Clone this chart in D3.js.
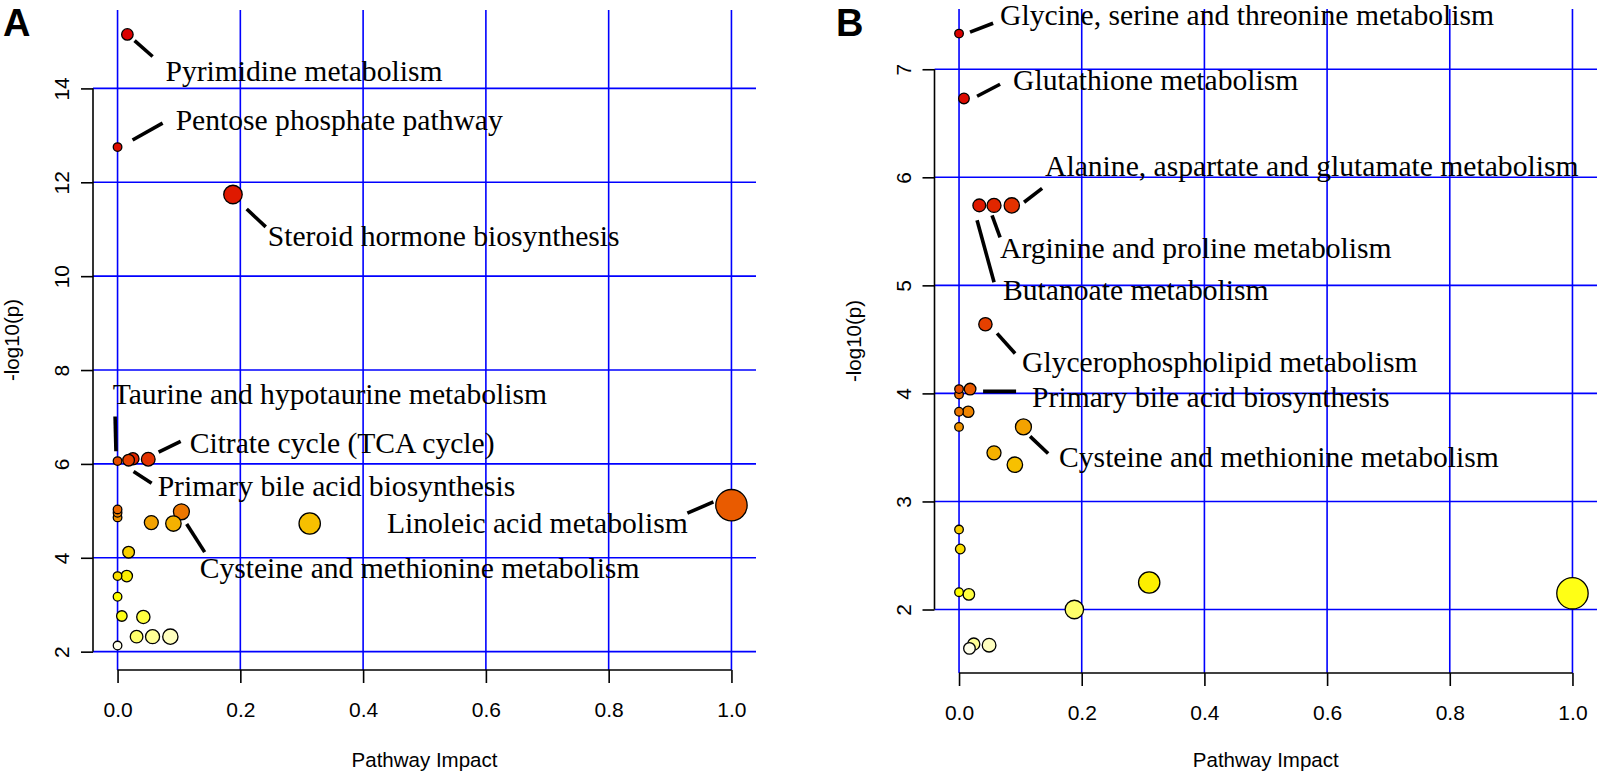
<!DOCTYPE html>
<html>
<head>
<meta charset="utf-8">
<script src="https://d3js.org/d3.v7.min.js"></script>
<style>
  body { margin: 0; background: #fff; }
  .tick text { font-family: "Liberation Sans", Arial, sans-serif; font-size: 21px; fill: #000; }
  .lab { font-family: "Liberation Serif", "Times New Roman", serif; font-size: 29.6px; fill: #000; }
  .ttl { font-family: "Liberation Sans", Arial, sans-serif; font-size: 20.5px; fill: #000; }
  .letter { font-family: "Liberation Sans", Arial, sans-serif; font-size: 38px; font-weight: bold; }
</style>
</head>
<body>
<div id="chart"></div>
<script>
// pathway impact and -log10(p), panel A
const impactA = [0.016, 0, 0.188, 0, 0.018, 0.025, 0.05, 0, 0, 0, 0.055, 0.091, 0.104, 0.313, 1.0,
                 0.018, 0, 0.015, 0, 0.007, 0.042, 0.031, 0.057, 0.086, 0];
const logpA   = [15.15, 12.75, 11.74, 6.06, 6.08, 6.11, 6.10, 5.03, 4.96, 4.86, 4.75, 4.73, 4.98, 4.73, 5.12,
                 4.12, 3.61, 3.61, 3.17, 2.76, 2.74, 2.32, 2.32, 2.32, 2.13];
// panel B
const impactB = [0, 0.008, 0.033, 0.057, 0.086, 0.043, 0, 0, 0.018, 0, 0.015, 0, 0.105, 0.057, 0.091,
                 0, 0.002, 0, 0.016, 0.188, 0.31, 1.0, 0.017, 0.024, 0.049];
const logpB   = [7.33, 6.73, 5.74, 5.74, 5.74, 4.64, 4.04, 3.99, 4.04, 3.83, 3.83, 3.69, 3.69, 3.45, 3.34,
                 2.74, 2.56, 2.16, 2.14, 2.0, 2.25, 2.15, 1.64, 1.68, 1.67];

const xTicks = [0, 0.2, 0.4, 0.6, 0.8, 1.0];
const yTicksA = [2, 4, 6, 8, 10, 12, 14];
const yTicksB = [2, 3, 4, 5, 6, 7];

// labelled pathways and the point each one belongs to
const namesA = ["Pyrimidine metabolism", "Pentose phosphate pathway", "Steroid hormone biosynthesis",
  "Taurine and hypotaurine metabolism", "Citrate cycle (TCA cycle)", "Primary bile acid biosynthesis",
  "Cysteine and methionine metabolism", "Linoleic acid metabolism"];
const pointA = [0, 1, 2, 3, 6, 4, 12, 14];
const namesB = ["Glycine, serine and threonine metabolism", "Glutathione metabolism",
  "Alanine, aspartate and glutamate metabolism", "Arginine and proline metabolism", "Butanoate metabolism",
  "Glycerophospholipid metabolism", "Primary bile acid biosynthesis", "Cysteine and methionine metabolism"];
const pointB = [0, 1, 4, 3, 2, 5, 8, 12];

// label placement in data units: text x, text y, leader x1,y1,x2,y2
const placeA = [
  [0.078, 14.38, 0.0277, 15.02, 0.0571, 14.68],
  [0.0946, 13.32, 0.0245, 12.90, 0.0734, 13.26],
  [0.2447, 10.86, 0.2104, 11.43, 0.2414, 11.05],
  [-0.008, 7.48, -0.004, 7.01, -0.0026, 6.27],
  [0.1175, 6.44, 0.0669, 6.25, 0.1028, 6.48],
  [0.0653, 5.53, 0.0261, 5.84, 0.0555, 5.59],
  [0.1338, 3.78, 0.1126, 4.72, 0.1419, 4.12],
  [0.4388, 4.74, 0.9282, 4.95, 0.9706, 5.19]
];
const placeB = [
  [0.0669, 7.50, 0.0179, 7.343, 0.0555, 7.426],
  [0.0881, 6.898, 0.0294, 6.75, 0.0669, 6.861],
  [0.1403, 6.10, 0.106, 5.769, 0.1354, 5.898],
  [0.0669, 5.343, 0.0538, 5.648, 0.0669, 5.444],
  [0.0718, 4.954, 0.0294, 5.602, 0.0571, 5.028],
  [0.1028, 4.287, 0.062, 4.556, 0.0914, 4.370],
  [0.1191, 3.963, 0.0392, 4.019, 0.093, 4.019],
  [0.1631, 3.407, 0.1158, 3.602, 0.1452, 3.444]
];

const svg = d3.select("#chart").append("svg")
  .attr("width", 1600).attr("height", 775)
  .style("background", "#fff");

// R-like heat.colors, slightly toned down for the red end
function heatColors(n) {
  const j = Math.floor(n / 4), i = n - j, out = [];
  for (let k = 0; k < i; k++) {
    const h = i > 1 ? k / (i - 1) : 0;
    const v = 0.86 + 0.14 * h;
    out.push(d3.rgb(255 * v, 255 * v * h, 0).formatHex());
  }
  for (let k = 0; k < j; k++) {
    const s = j > 1 ? (1 - 1 / (2 * j)) - k * ((1 - 1 / j) / (j - 1)) : 0.5;
    out.push(d3.rgb(255, 255, 255 * (1 - s)).formatHex());
  }
  return out;
}

function panel(impact, logp, yTicks, names, pts, place, left, right, top, bottom, letter, letterX) {
  const g = svg.append("g");
  const ymin = d3.min(logp), ymax = d3.max(logp), yr = ymax - ymin;
  const x = d3.scaleLinear().domain([-0.04, 1.04]).range([left, right]);
  const y = d3.scaleLinear().domain([ymin - 0.04 * yr, ymax + 0.04 * yr]).range([bottom, top]);
  const r = d3.scaleSqrt().domain([0, 1]).range([4.3, 15.7]);

  // grid
  g.selectAll(".hg").data(yTicks).join("line")
    .attr("x1", left).attr("x2", right)
    .attr("y1", d => y(d)).attr("y2", d => y(d))
    .attr("stroke", "#0000ff").attr("stroke-width", 1.6);
  g.selectAll(".vg").data(xTicks).join("line")
    .attr("x1", d => x(d)).attr("x2", d => x(d))
    .attr("y1", top).attr("y2", bottom)
    .attr("stroke", "#0000ff").attr("stroke-width", 1.6);

  // axes
  const ax = g.append("g").attr("transform", `translate(0,${bottom})`)
    .call(d3.axisBottom(x).tickValues(xTicks).tickFormat(d3.format(".1f")).tickSize(13).tickPadding(19).tickSizeOuter(0));
  ax.select(".domain").remove();
  ax.selectAll(".tick line").attr("stroke", "#000").attr("stroke-width", 1.6);
  ax.append("line").attr("x1", x(0)).attr("x2", x(1)).attr("stroke", "#000").attr("stroke-width", 1.6);

  const ay = g.append("g").attr("transform", `translate(${left},0)`)
    .call(d3.axisLeft(y).tickValues(yTicks).tickFormat(d3.format("d")).tickSize(12).tickSizeOuter(0));
  ay.select(".domain").remove();
  ay.selectAll(".tick line").attr("stroke", "#000").attr("stroke-width", 1.6);
  ay.selectAll(".tick text")
    .attr("x", 0).attr("dy", 0).attr("text-anchor", "middle")
    .attr("transform", "translate(-24,0) rotate(-90)");
  ay.append("line").attr("y1", y(yTicks[0])).attr("y2", y(yTicks[yTicks.length - 1]))
    .attr("stroke", "#000").attr("stroke-width", 1.6);

  g.append("text").attr("class", "ttl")
    .attr("x", (left + right) / 2).attr("y", 767).attr("text-anchor", "middle")
    .text("Pathway Impact");
  g.append("text").attr("class", "ttl")
    .attr("transform", `translate(${left - 74},${(top + bottom) / 2}) rotate(-90)`)
    .attr("text-anchor", "middle").text("-log10(p)");

  // colour by rank of p, size by impact
  const order = d3.range(logp.length).sort((a, b) => logp[b] - logp[a]);
  const cols = heatColors(logp.length), fill = [];
  order.forEach((idx, k) => fill[idx] = cols[k]);

  g.selectAll("circle").data(d3.range(logp.length).reverse()).join("circle")
    .attr("cx", i => x(impact[i])).attr("cy", i => y(logp[i]))
    .attr("r", i => r(impact[i]))
    .attr("fill", i => fill[i]).attr("stroke", "#000").attr("stroke-width", 1.3);

  // leaders and labels
  g.selectAll(".leader").data(place).join("line")
    .attr("x1", p => x(p[2])).attr("y1", p => y(p[3]))
    .attr("x2", p => x(p[4])).attr("y2", p => y(p[5]))
    .attr("stroke", "#000").attr("stroke-width", 3.6);
  g.selectAll(".lab").data(names).join("text").attr("class", "lab")
    .attr("x", (d, i) => x(place[i][0])).attr("y", (d, i) => y(place[i][1]))
    .attr("dominant-baseline", "central")
    .text(d => d);

  svg.append("text").attr("class", "letter").attr("x", letterX).attr("y", 36).text(letter);
}

panel(impactA, logpA, yTicksA, namesA, pointA, placeA, 93, 756, 10, 670, "A", 3);
panel(impactB, logpB, yTicksB, namesB, pointB, placeB, 934.5, 1597, 9, 673, "B", 836);
</script>
</body>
</html>
